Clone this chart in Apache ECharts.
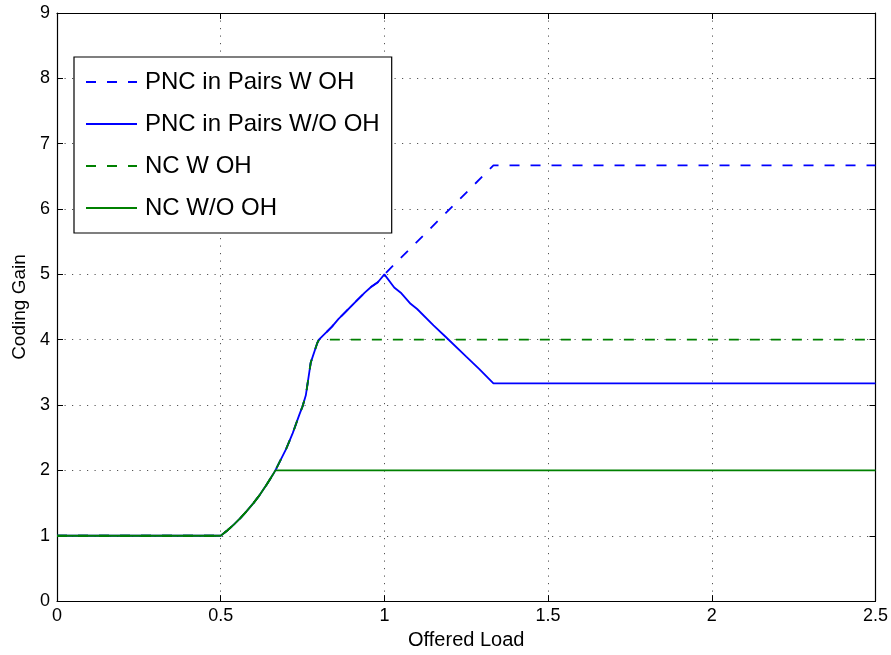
<!DOCTYPE html>
<html>
<head>
<meta charset="utf-8">
<script src="https://cdn.jsdelivr.net/npm/echarts@6/dist/echarts.min.js"></script>
<style>
html,body{margin:0;padding:0;background:#fff;}
#c{width:891px;height:655px;}
</style>
</head>
<body>
<div id="c"></div>
<script>
// ---- data ----
var seriesNames = ['PNC in Pairs W OH', 'PNC in Pairs W/O OH', 'NC W OH', 'NC W/O OH'];

// common rising part (offered load 0 .. 0.8)
var riseLoad = [0, 0.5, 0.52, 0.54, 0.56, 0.58, 0.6, 0.62, 0.64, 0.66, 0.667, 0.68, 0.70, 0.72, 0.74, 0.75, 0.76, 0.775, 0.795, 0.8];
var riseGain = [1, 1.0, 1.08, 1.17, 1.27, 1.38, 1.5, 1.63, 1.78, 1.94, 2.0, 2.13, 2.33, 2.57, 2.85, 2.98, 3.15, 3.65, 3.95, 4.0];

// PNC in Pairs (0.8 .. 1.0), shared by both PNC curves
var pncMidLoad = [0.82, 0.84, 0.86, 0.88, 0.9, 0.92, 0.94, 0.96, 0.98, 1.0];
var pncMidGain = [4.1, 4.2, 4.32, 4.42, 4.52, 4.62, 4.72, 4.81, 4.88, 5.0];

// PNC in Pairs W OH after load 1.0
var pncWLoad = [1.333, 2.5];
var pncWGain = [6.667, 6.667];

// PNC in Pairs W/O OH after load 1.0
var pncWoLoad = [1.03, 1.05, 1.08, 1.1, 1.15, 1.19, 1.25, 1.29, 1.333, 2.5];
var pncWoGain = [4.8, 4.72, 4.55, 4.47, 4.22, 4.03, 3.74, 3.55, 3.333, 3.333];

// NC W OH after load 0.8
var ncWLoad = [2.5];
var ncWGain = [4.0];

// NC W/O OH: rise stops at load 0.667
var ncWoCut = 0.667;
var ncWoLoad = [2.5];
var ncWoGain = [2.0];

var xTicks = [0, 0.5, 1, 1.5, 2, 2.5];
var yTicks = [0, 1, 2, 3, 4, 5, 6, 7, 8, 9];

// ---- build point lists ----
function pairs(xs, ys) { return xs.map(function (x, i) { return [x, ys[i]]; }); }
var rise = pairs(riseLoad, riseGain);
var riseToNcWo = rise.filter(function (p) { return p[0] <= ncWoCut; });

var dPncW = rise.concat(pairs(pncMidLoad, pncMidGain), pairs(pncWLoad, pncWGain));
var dPncWo = rise.concat(pairs(pncMidLoad, pncMidGain), pairs(pncWoLoad, pncWoGain));
var dNcW = rise.concat(pairs(ncWLoad, ncWGain));
var dNcWo = riseToNcWo.concat(pairs(ncWoLoad, ncWoGain));

var BLUE = '#0000ff', GREEN = '#008000';
var FONT = '"Liberation Sans", Arial, Helvetica, sans-serif';
var DASH = [10, 11];

function line(name, data, color, dashed) {
  return {
    name: name, type: 'line', data: data, showSymbol: false, symbol: 'none',
    xAxisIndex: 0, yAxisIndex: 0, animation: false,
    lineStyle: { color: color, width: 1.8, type: dashed ? DASH : 'solid' },
    itemStyle: { color: color }
  };
}

var chart = echarts.init(document.getElementById('c'), null, { renderer: 'canvas' });
var gridLine = { show: true, lineStyle: { color: '#555', width: 1, type: [1.2, 6.3] } };
chart.setOption({
  backgroundColor: '#fff',
  animation: false,
  textStyle: { fontFamily: FONT },
  grid: { left: 57, right: 15, top: 13, bottom: 51, containLabel: false },
  legend: {
    show: true, orient: 'vertical', left: 74, top: 57,
    data: seriesNames,
    itemStyle: { opacity: 0, borderWidth: 0 },
    backgroundColor: '#fff', borderColor: '#000', borderWidth: 1.2,
    padding: [13, 12, 13, 11],
    itemWidth: 51, itemHeight: 24, itemGap: 18,
    textStyle: { fontSize: 24, color: '#000', fontFamily: FONT, padding: [0, 0, 0, 3], lineHeight: 24 }
  },
  xAxis: [{
    type: 'value', min: 0, max: 2.5, interval: 0.5, position: 'bottom',
    name: 'Offered Load', nameLocation: 'middle', nameGap: 27,
    nameTextStyle: { fontSize: 20, color: '#000', fontFamily: FONT },
    axisLine: { show: true, onZero: false, lineStyle: { color: '#000', width: 1.2 } },
    axisTick: { show: true, inside: true, length: 6, lineStyle: { color: '#000' } },
    axisLabel: { fontSize: 18, color: '#000', margin: 6, fontFamily: FONT,
      formatter: function (v) { return String(v); } },
    splitLine: gridLine
  }, {
    type: 'value', min: 0, max: 2.5, interval: 0.5, position: 'top',
    axisLine: { show: true, onZero: false, lineStyle: { color: '#000', width: 1.2 } },
    axisTick: { show: true, inside: true, length: 6, lineStyle: { color: '#000' } },
    axisLabel: { show: false }, splitLine: { show: false }
  }],
  yAxis: [{
    type: 'value', min: 0, max: 9, interval: 1, position: 'left',
    name: 'Coding Gain', nameLocation: 'middle', nameGap: 28,
    nameTextStyle: { fontSize: 19, color: '#000', fontFamily: FONT },
    axisLine: { show: true, onZero: false, lineStyle: { color: '#000', width: 1.2 } },
    axisTick: { show: true, inside: true, length: 6, lineStyle: { color: '#000' } },
    axisLabel: { fontSize: 18, color: '#000', margin: 7, fontFamily: FONT },
    splitLine: gridLine
  }, {
    type: 'value', min: 0, max: 9, interval: 1, position: 'right',
    axisLine: { show: true, onZero: false, lineStyle: { color: '#000', width: 1.2 } },
    axisTick: { show: true, inside: true, length: 6, lineStyle: { color: '#000' } },
    axisLabel: { show: false }, splitLine: { show: false }
  }],
  series: [
    line(seriesNames[0], dPncW, BLUE, true),
    line(seriesNames[1], dPncWo, BLUE, false),
    line(seriesNames[2], dNcW, GREEN, true),
    line(seriesNames[3], dNcWo, GREEN, false)
  ]
});
</script>
</body>
</html>
